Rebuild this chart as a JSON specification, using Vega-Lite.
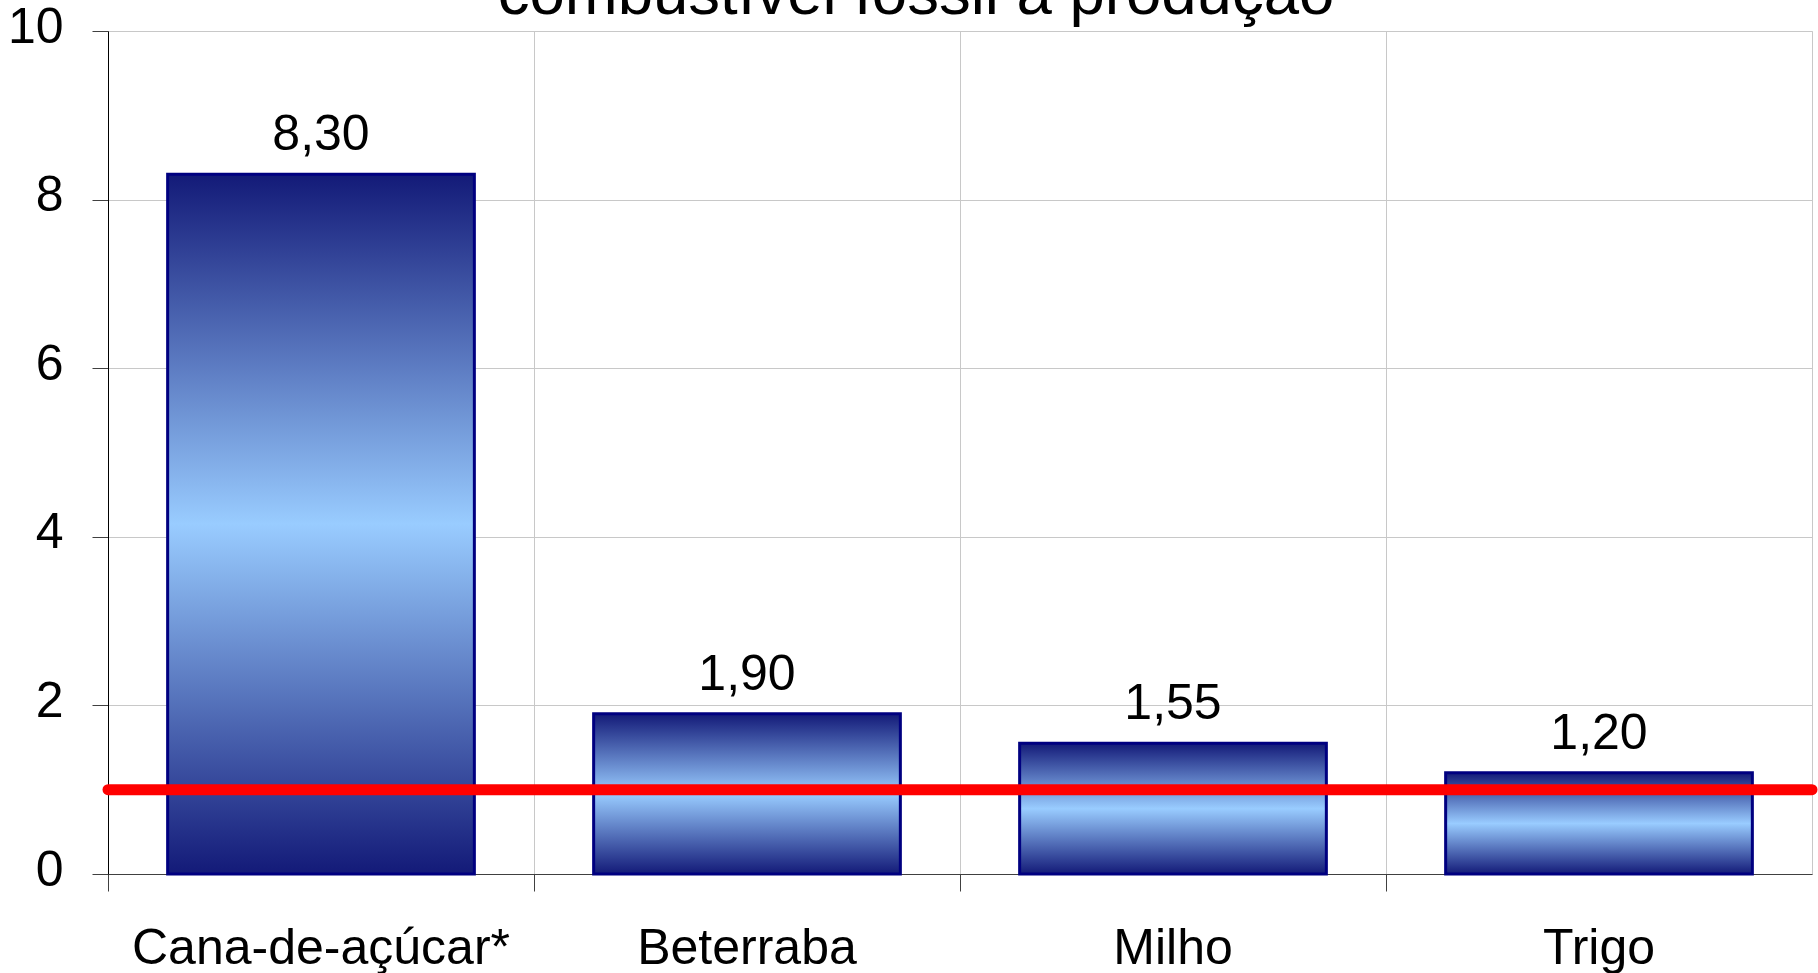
{
  "$schema": "https://vega.github.io/schema/vega-lite/v6.json",
  "autosize": {"type": "none"},
  "padding": {"left": 108, "top": 31, "right": 6, "bottom": 99},
  "width": 1704,
  "height": 843,
  "background": "white",
  "title": {
    "text": "combustível fóssil à produção",
    "font": "Liberation Sans",
    "fontSize": 63.5,
    "fontWeight": "normal",
    "color": "black",
    "anchor": "middle",
    "frame": "group",
    "baseline": "alphabetic",
    "offset": -75,
    "dx": -44
  },
  "config": {
    "font": "Liberation Sans",
    "view": {"stroke": "#c8c8c8", "strokeWidth": 1},
    "locale": {
      "number": {"decimal": ",", "thousands": ".", "grouping": [3], "currency": ["R$", ""]}
    }
  },
  "data": {
    "values": [
      {"cultura": "Cana-de-açúcar*", "valor": 8.30},
      {"cultura": "Beterraba", "valor": 1.90},
      {"cultura": "Milho", "valor": 1.55},
      {"cultura": "Trigo", "valor": 1.20}
    ]
  },
  "layer": [
    {
      "mark": {
        "type": "bar",
        "width": {"band": 0.72},
        "stroke": "#000080",
        "strokeWidth": 3,
        "color": {
          "gradient": "linear",
          "x1": 0, "y1": 0, "x2": 0, "y2": 1,
          "stops": [
            {"offset": 0, "color": "#131a78"},
            {"offset": 0.5, "color": "#99ccff"},
            {"offset": 1, "color": "#131a78"}
          ]
        }
      },
      "encoding": {
        "x": {
          "field": "cultura",
          "type": "nominal",
          "sort": null,
          "scale": {"paddingInner": 0, "paddingOuter": 0},
          "axis": {
            "title": null,
            "bandPosition": 0,
            "labelAngle": 0,
            "labelLimit": 1000,
            "labelFont": "Liberation Sans",
            "labelFontSize": 50,
            "labelColor": "black",
            "labelBaseline": "alphabetic",
            "labelPadding": 72,
            "tickSize": 17,
            "tickColor": "#404040",
            "domainColor": "#404040",
            "grid": true,
            "gridColor": "#c8c8c8"
          }
        },
        "y": {
          "field": "valor",
          "type": "quantitative",
          "scale": {"domain": [0, 10], "nice": false},
          "axis": {
            "title": null,
            "values": [0, 2, 4, 6, 8, 10],
            "format": "d",
            "labelFont": "Liberation Sans",
            "labelFontSize": 50,
            "labelColor": "black",
            "labelPadding": 29,
            "labelOffset": -4,
            "tickSize": 16,
            "tickColor": "#404040",
            "domainColor": "#000000",
            "grid": true,
            "gridColor": "#c8c8c8"
          }
        }
      }
    },
    {
      "mark": {
        "type": "text",
        "font": "Liberation Sans",
        "fontSize": 50,
        "color": "black",
        "baseline": "alphabetic",
        "dy": -24
      },
      "encoding": {
        "x": {"field": "cultura", "type": "nominal", "sort": null},
        "y": {"field": "valor", "type": "quantitative"},
        "text": {"field": "valor", "type": "quantitative", "format": ".2f"}
      }
    },
    {
      "data": {"values": [{"ref": 1}]},
      "mark": {"type": "rule", "color": "#ff0000", "strokeWidth": 11, "strokeCap": "round"},
      "encoding": {
        "y": {"field": "ref", "type": "quantitative"}
      }
    }
  ]
}
